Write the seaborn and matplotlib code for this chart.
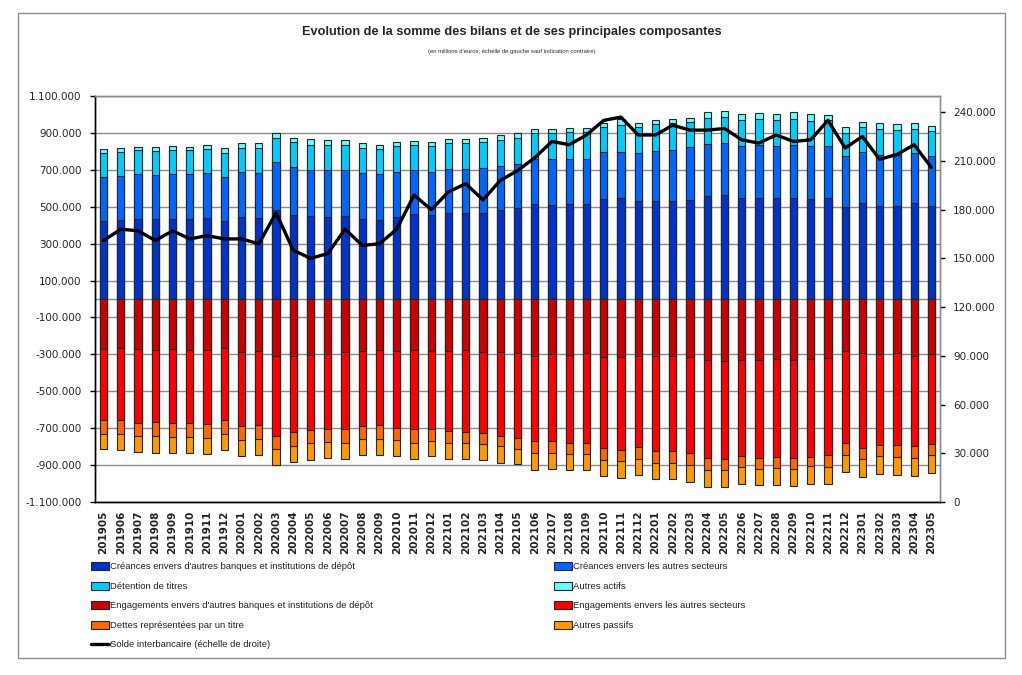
import numpy as np
import pandas as pd
import matplotlib
matplotlib.use("Agg")
import matplotlib.pyplot as plt
from matplotlib import font_manager
from matplotlib.patches import Patch, Rectangle
from matplotlib.lines import Line2D
from matplotlib.ticker import FuncFormatter
import seaborn as sns

# mois 201905 .. 202305
mois = list(pd.period_range("2019-05", "2023-05", freq="M").strftime("%Y%m"))

creances_banques = [423, 428, 433, 433, 433, 433, 439, 423, 444, 439, 482, 455, 450, 444, 450, 433, 428,
                    444, 460, 455, 466, 466, 466, 482, 495, 516, 511, 516, 516, 542, 547, 531, 531, 531,
                    536, 560, 565, 547, 547, 547, 547, 542, 547, 498, 520, 506, 506, 520, 504]
creances_autres = [240, 240, 243, 238, 243, 243, 243, 240, 245, 243, 260, 261, 249, 254, 249, 249, 249,
                   245, 238, 233, 238, 238, 243, 240, 238, 243, 249, 243, 243, 252, 251, 261, 272, 278,
                   285, 279, 283, 281, 287, 283, 287, 288, 281, 276, 278, 276, 276, 270, 269]
detention_titres = [128, 128, 132, 132, 132, 132, 133, 128, 130, 137, 133, 135, 137, 137, 137, 137, 137,
                    139, 135, 139, 141, 141, 141, 141, 142, 139, 139, 144, 144, 139, 144, 139, 144, 142,
                    139, 141, 137, 141, 141, 139, 141, 135, 141, 128, 132, 137, 133, 130, 135]
autres_actifs = [22, 22, 18, 23, 23, 18, 22, 25, 25, 25, 27, 23, 31, 25, 25, 25, 23, 25, 23, 25, 22, 22,
                 22, 25, 22, 22, 22, 22, 22, 23, 32, 22, 22, 23, 23, 31, 32, 32, 31, 32, 36, 36, 29, 32,
                 29, 32, 31, 36, 32]

# passif
engagements_banques = [269, 264, 269, 275, 269, 275, 275, 264, 286, 280, 307, 307, 302, 296, 286, 280,
                       275, 280, 275, 280, 280, 275, 286, 286, 291, 307, 296, 302, 291, 313, 313, 307,
                       307, 307, 313, 329, 334, 329, 329, 324, 329, 324, 318, 282, 293, 296, 293, 307, 296]
engagements_autres = [387, 389, 402, 391, 402, 396, 402, 393, 404, 404, 434, 415, 409, 407, 418, 409,
                      407, 418, 429, 424, 434, 447, 440, 456, 461, 465, 472, 476, 487, 492, 503, 497,
                      514, 519, 524, 530, 535, 524, 530, 530, 530, 530, 530, 501, 512, 497, 496, 490, 492]
dettes_titre = [76, 79, 70, 76, 76, 76, 78, 76, 72, 72, 72, 72, 67, 74, 74, 72, 74, 68, 74, 65, 68, 56,
                61, 56, 61, 60, 68, 60, 60, 65, 60, 65, 65, 65, 65, 65, 60, 60, 60, 60, 60, 52, 60, 65,
                60, 60, 65, 63, 60]
autres_passifs = [83, 88, 90, 90, 90, 85, 83, 83, 87, 92, 87, 88, 92, 87, 87, 87, 87, 87, 87, 83, 87, 87,
                  87, 88, 83, 92, 87, 87, 87, 87, 92, 87, 87, 87, 87, 94, 88, 87, 87, 92, 92, 94, 92, 92,
                  97, 97, 97, 101, 96]

# solde interbancaire (echelle de droite)
solde = [161, 168, 167, 161, 167, 162, 164, 162, 162, 159, 178, 155, 150, 153, 168, 158, 159, 168, 189,
         180, 191, 196, 186, 198, 204, 212, 222, 220, 226, 235, 237, 226, 226, 232, 229, 229, 230, 223,
         221, 226, 222, 223, 235, 218, 225, 211, 214, 220, 206]

noms = ["Créances envers d'autres banques et institutions de dépôt", "Créances envers les autres secteurs",
        "Détention de titres", "Autres actifs",
        "Engagements envers d'autres banques et institutions de dépôt", "Engagements envers les autres secteurs",
        "Dettes représentées par un titre", "Autres passifs"]
couleurs = ["#0033CC", "#0066FF", "#00CCFF", "#66FFFF", "#CC0000", "#FF0000", "#FF6600", "#FF9900"]

sns.set_style("white")
dispo = {f.name for f in font_manager.fontManager.ttflist}
narrow = "Liberation Sans Narrow" if "Liberation Sans Narrow" in dispo else "Liberation Sans"
plt.rcParams["font.family"] = ["DejaVu Sans"]

fig = plt.figure(figsize=(10.22, 6.75), dpi=100)
ax = fig.add_axes([95 / 1022, 1 - 502 / 675, 845 / 1022, 406 / 675])

# empilement: on trace les cumuls du plus grand au plus petit
actif = np.array([creances_banques, creances_autres, detention_titres, autres_actifs]) * 1000
passif = np.array([engagements_banques, engagements_autres, dettes_titre, autres_passifs]) * 1000
cum_actif = np.cumsum(actif, axis=0)
cum_passif = -np.cumsum(passif, axis=0)

for i in range(3, -1, -1):
    sns.barplot(x=mois, y=cum_actif[i], color=couleurs[i], saturation=1, width=0.42,
                edgecolor="#262626", linewidth=0.8, errorbar=None, ax=ax)
for i in range(3, -1, -1):
    sns.barplot(x=mois, y=cum_passif[i], color=couleurs[4 + i], saturation=1, width=0.42,
                edgecolor="#262626", linewidth=0.8, errorbar=None, ax=ax)

fmt = FuncFormatter(lambda v, p: f"{int(round(v)):,}".replace(",", "."))

ax.set_ylim(-1100000, 1100000)
ax.set_yticks(np.arange(-1100000, 1100001, 200000))
ax.yaxis.set_major_formatter(fmt)
ax.yaxis.grid(True, color="#8c8c8c", linewidth=1)
ax.set_axisbelow(True)
ax.axhline(0, color="#8c8c8c", linewidth=1, zorder=0.5)
ax.set_xlabel("")
ax.set_ylabel("")
ax.tick_params(axis="y", direction="out", length=3.5, width=1, color="black", pad=6, labelsize=7.5)
ax.tick_params(axis="x", length=0, pad=6, labelsize=7.5, labelrotation=90)
for lab in ax.get_xticklabels():
    lab.set_fontweight("bold")
    lab.set_color("#222222")

ax2 = ax.twinx()
sns.lineplot(x=np.arange(len(mois)), y=np.array(solde) * 1000, color="black", linewidth=2.4, ax=ax2)
ax2.set_ylim(0, 250000)
ax2.set_yticks(np.arange(0, 240001, 30000))
ax2.yaxis.set_major_formatter(fmt)
ax2.set_ylabel("")
ax2.tick_params(axis="y", direction="out", length=3.5, width=1, color="black", pad=6, labelsize=7.5)
ax.set_xlim(-0.5, len(mois) - 0.5)

for a in (ax, ax2):
    a.spines["left"].set_color("black")
    a.spines["bottom"].set_color("black")
    a.spines["top"].set_color("#8c8c8c")
    a.spines["right"].set_color("#8c8c8c")
    for s in a.spines.values():
        s.set_linewidth(1)
        s.set_visible(True)

fig.text(0.501, 1 - 32 / 675, "Evolution de la somme des bilans et de ses principales composantes",
         ha="center", va="center", fontsize=9.2, fontweight="bold", family=narrow)
fig.text(0.501, 1 - 52 / 675, "(en millions d'euros; échelle de gauche sauf indication contraire)",
         ha="center", va="center", fontsize=4.2, family=narrow)

# legende en deux colonnes
h = [Patch(facecolor=c, edgecolor="#262626", linewidth=0.8) for c in couleurs]
ligne = Line2D([], [], color="black", linewidth=2.4)
leg_kw = dict(loc="upper left", frameon=False, ncol=1, borderpad=0, borderaxespad=0,
              handlelength=1.9, handleheight=0.95, handletextpad=0.15, labelspacing=1.08,
              prop={"family": narrow, "size": 6.8})
leg1 = fig.legend([h[0], h[2], h[4], h[6], ligne],
                  [noms[0], noms[2], noms[4], noms[6], "Solde interbancaire (échelle de droite)"],
                  bbox_to_anchor=(91 / 1022, 1 - 562 / 675), **leg_kw)
leg2 = fig.legend([h[1], h[3], h[5], h[7]], [noms[1], noms[3], noms[5], noms[7]],
                  bbox_to_anchor=(554 / 1022, 1 - 562 / 675), **leg_kw)
for lg in (leg1, leg2):
    for t in lg.get_texts():
        t.set_color("#222222")

fig.add_artist(Rectangle((18 / 1022, 1 - 658 / 675), 987 / 1022, 645 / 675, transform=fig.transFigure,
                         fill=False, edgecolor="#8c8c8c", linewidth=1))

fig.savefig("out.png", dpi=100, facecolor="white")
